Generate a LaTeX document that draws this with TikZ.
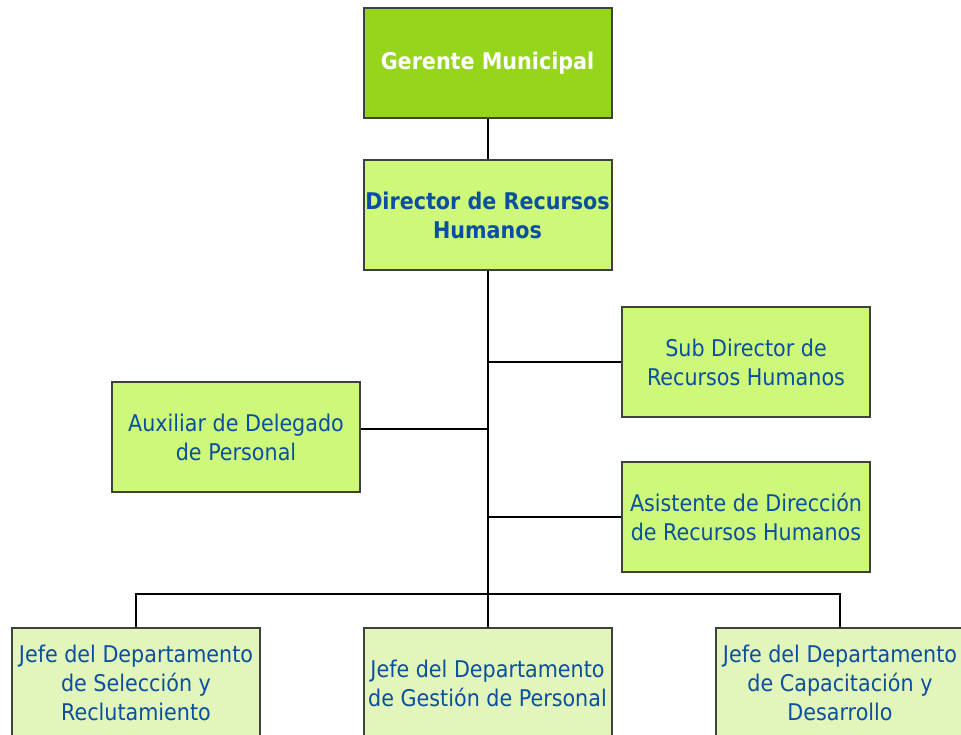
\documentclass[tikz,border=0pt]{standalone}
\usepackage{fontspec}
\setmainfont{DejaVu Sans Condensed}
\definecolor{gm}{HTML}{95D51B}
\definecolor{lime}{HTML}{CDF87A}
\definecolor{pale}{HTML}{E2F5BA}
\definecolor{txt}{HTML}{0A4FA0}
\definecolor{bord}{HTML}{404040}
\tikzset{
  box/.style={draw=bord, line width=2pt, minimum width=248pt, minimum height=110pt, align=center, inner sep=0pt, text=txt, font=\fontsize{23}{29}\selectfont},
  topbox/.style={box, fill=gm, text=white, font=\fontsize{23}{29}\selectfont\bfseries},
  midbox/.style={box, fill=lime},
  lowbox/.style={box, fill=pale},
  link/.style={line width=2pt, black}
}
\begin{document}
\begin{tikzpicture}[x=1pt,y=-1pt]
\useasboundingbox (0,0) rectangle (961,735);
\clip (0,0) rectangle (961,735);
\node[topbox] (gm) at (487.5,63) {Gerente Municipal};
\node[midbox, font=\fontsize{23}{29}\selectfont\bfseries] (dir) at (487.5,215) {Director de Recursos\\Humanos};
\node[midbox] (sub) at (746,362) {Sub Director de\\Recursos Humanos};
\node[midbox] (aux) at (236,437) {Auxiliar de Delegado\\de Personal};
\node[midbox] (asi) at (746,517) {Asistente de Dirección\\de Recursos Humanos};
\node[lowbox] (j1) at (136,683) {Jefe del Departamento\\de Selección y\\Reclutamiento};
\node[lowbox] (j2) at (487.5,683) {Jefe del Departamento\\de Gestión de Personal};
\node[lowbox] (j3) at (840,683) {Jefe del Departamento\\de Capacitación y\\Desarrollo};
\coordinate (t1) at (487.5,362);
\coordinate (t2) at (487.5,429);
\coordinate (t3) at (487.5,517);
\coordinate (bar) at (487.5,594);
\draw[link] (gm.south) -- (dir.north);
\draw[link] (dir.south) -- (bar);
\draw[link] (t1) -- (sub.west);
\draw[link] (t2) -- (aux.east |- t2);
\draw[link] (t3) -- (asi.west);
\draw[link] (j1.north) -- (j1.north |- bar) -- (j3.north |- bar) -- (j3.north);
\draw[link] (bar) -- (j2.north);
\end{tikzpicture}
\end{document}
